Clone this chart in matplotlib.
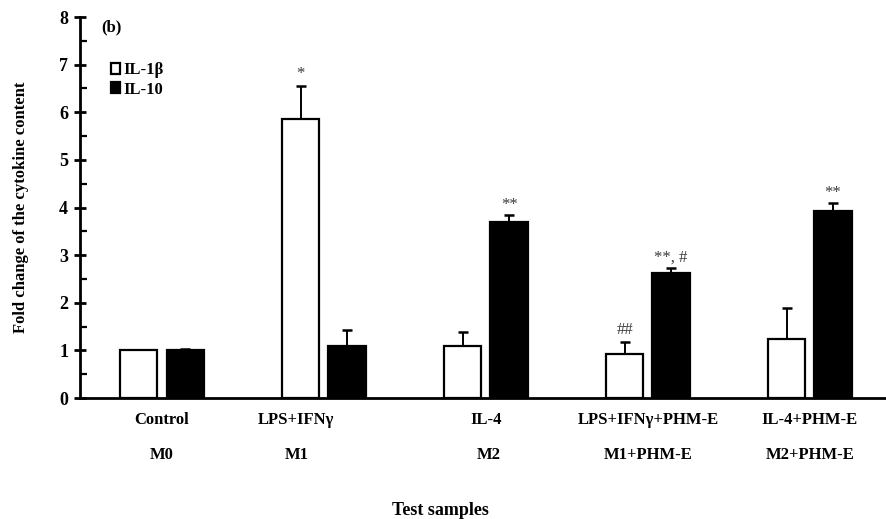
import matplotlib
matplotlib.use('Agg')
import matplotlib.pyplot as plt
import numpy as np
from matplotlib.ticker import MultipleLocator

plt.rcParams['font.family'] = ['Liberation Serif', 'DejaVu Serif']

# 数据
groups = ['Control', 'LPS+IFNγ', 'IL-4', 'LPS+IFNγ+PHM-E', 'IL-4+PHM-E']
phenotypes = ['M0', 'M1', 'M2', 'M1+PHM-E', 'M2+PHM-E']
il1b = [1.0, 5.86, 1.10, 0.93, 1.24]
il1b_err = [0.0, 0.69, 0.28, 0.24, 0.64]
il10 = [1.0, 1.10, 3.70, 2.63, 3.93]
il10_err = [0.02, 0.32, 0.15, 0.11, 0.17]
il1b_marks = ['', '*', '', '##', '']
il10_marks = ['', '', '**', '**, #', '**']

fig = plt.figure(figsize=(8.86, 5.19), dpi=100)
ax = fig.add_axes([0.0903, 0.2331, 0.9097, 0.7341])

x = np.arange(len(groups))
w = 0.23
off = 0.143

ax.bar(x - off, il1b, w, color='white', edgecolor='black', linewidth=1.6,
       label='IL-1β', zorder=2)
ax.bar(x + off, il10, w, color='black', edgecolor='black', linewidth=1.6,
       label='IL-10', zorder=2)

zeros = np.zeros(len(x))
ax.errorbar(x - off, il1b, yerr=[zeros, il1b_err], fmt='none', ecolor='black',
            elinewidth=1.4, capsize=3.5, capthick=1.8, zorder=1)
ax.errorbar(x + off, il10, yerr=[zeros, il10_err], fmt='none', ecolor='black',
            elinewidth=1.4, capsize=3.5, capthick=1.8, zorder=1)

# 显著性标记
for i in range(len(x)):
    if il1b_marks[i]:
        ax.text(x[i] - off, il1b[i] + il1b_err[i] + 0.08, il1b_marks[i],
                ha='center', va='bottom', fontsize=12, color='#3a3a3a')
    if il10_marks[i]:
        ax.text(x[i] + off, il10[i] + il10_err[i] + 0.04, il10_marks[i],
                ha='center', va='bottom', fontsize=12, color='#3a3a3a')

ax.set_xlim(-0.506, 4.47)
ax.set_ylim(0, 8)
ax.spines['top'].set_visible(False)
ax.spines['right'].set_visible(False)
ax.spines['left'].set_linewidth(2)
ax.spines['bottom'].set_linewidth(2)

ax.yaxis.set_major_locator(MultipleLocator(1))
ax.yaxis.set_minor_locator(MultipleLocator(0.5))
ax.tick_params(axis='y', which='major', direction='inout', length=9, width=2,
               labelsize=13, pad=4)
ax.tick_params(axis='y', which='minor', direction='in', length=5, width=1.6)
for lab in ax.get_yticklabels():
    lab.set_fontweight('bold')
ax.set_xticks([])

# 类别标签
label_x = [0, 0.83, 2, 3, 4]
pheno_x = [0, 0.83, 2.02, 3, 4]
for lx, g in zip(label_x, groups):
    ax.text(lx, -0.47, g, ha='center', va='center', fontsize=12,
            fontweight='bold', clip_on=False)
for px, p in zip(pheno_x, phenotypes):
    ax.text(px, -1.19, p, ha='center', va='center', fontsize=12,
            fontweight='bold', clip_on=False)

ax.text(-0.31, 7.78, '(b)', ha='center', va='center', fontsize=12,
        fontweight='bold')

ax.set_ylabel('Fold change of the cytokine content', fontsize=12,
              fontweight='bold', labelpad=22)
fig.text(0.497, 0.0, 'Test samples', ha='center', va='bottom', fontsize=13,
         fontweight='bold')

leg = ax.legend(loc='upper left', bbox_to_anchor=(0.024, 0.912), frameon=False,
                handlelength=0.55, handleheight=0.65, handletextpad=0.2,
                labelspacing=0.2, borderpad=0.2,
                prop={'weight': 'bold', 'size': 12})

fig.savefig('out.png', dpi=100)
